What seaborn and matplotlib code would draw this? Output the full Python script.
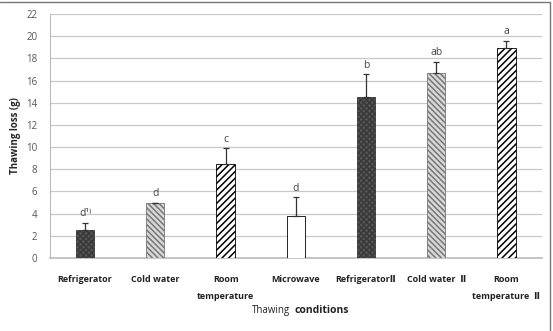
import numpy as np
import pandas as pd
import seaborn as sns
import matplotlib.pyplot as plt
from matplotlib.lines import Line2D

# data
conditions = ['Refrigerator', 'Cold water', 'Room\n\ntemperature', 'Microwave',
              'Refrigerator\u2161', 'Cold water  \u2161', 'Room\n\ntemperature  \u2161']
loss = [2.5, 5.0, 8.5, 3.8, 14.5, 16.7, 18.9]
err = [0.7, 0.0, 1.4, 1.7, 2.1, 1.0, 0.7]
letters = ['d\u00b9\u207e', 'd', 'c', 'd', 'b', 'ab', 'a']

fills = ['#555555', '#d8d8d8', 'white', 'white', '#555555', '#d8d8d8', 'white']
hatches = ['xxxxxx', '\\\\\\\\\\\\', '/////', '', 'xxxxxx', '\\\\\\\\\\\\', '/////']
hatch_cols = ['#3a3a3a', '#777777', 'black', 'black', '#3a3a3a', '#777777', 'black']

sns.set_style('white')
plt.rcParams['font.family'] = ['Open Sans', 'DejaVu Sans']
plt.rcParams['hatch.linewidth'] = 1.1

df = pd.DataFrame({'cond': conditions, 'loss': loss})

fig = plt.figure(figsize=(5.53, 3.31), dpi=100)
ax = fig.add_axes([0.0904, 0.2205, 0.889, 0.7372])

sns.barplot(data=df, x='cond', y='loss', ax=ax, width=0.26, color='white')

for i, bar in enumerate(ax.patches):
    bar.set_facecolor(fills[i])
    bar.set_hatch(hatches[i])
    bar.set_edgecolor(hatch_cols[i])
    bar.set_linewidth(0.6)
    bar.set_zorder(3)

x = np.arange(len(conditions))
ax.errorbar(x, loss, yerr=[np.zeros(len(err)), err], fmt='none',
            ecolor='#333333', elinewidth=0.9, capsize=2.5, capthick=0.9, zorder=4)

for i in range(len(x)):
    ax.text(x[i], loss[i] + err[i] + 0.3, letters[i], ha='center', va='bottom',
            fontsize=7.5, color='#444444')

ax.set_ylim(0, 22)
ax.set_yticks(range(0, 23, 2))
ax.set_xlim(-0.5, len(conditions) - 0.5)
ax.yaxis.grid(True, color='#c8c8c8', linewidth=0.9, zorder=0)
ax.set_axisbelow(True)
for s in ['top', 'right']:
    ax.spines[s].set_visible(False)
ax.spines['left'].set_color('#bbbbbb')
ax.spines['bottom'].set_color('#bbbbbb')
ax.spines['left'].set_linewidth(0.8)
ax.spines['bottom'].set_linewidth(1.2)
ax.tick_params(axis='y', length=3, color='#bbbbbb', labelsize=7, labelcolor='#555555', pad=6)
ax.tick_params(axis='x', length=0, pad=12)
ax.set_xticks(x)
ax.set_xticklabels(conditions, fontsize=6.5, fontweight='bold', color='#222222',
                   linespacing=0.95)

ax.set_xlabel('')
ax.set_ylabel('Thawing loss (g)', fontsize=7, fontweight='bold', labelpad=4)

fig.text(0.456, 0.045, 'Thawing', fontsize=7, color='#222222', ha='left', va='bottom')
fig.text(0.533, 0.045, 'conditions', fontsize=7.5, fontweight='bold', color='#222222',
         ha='left', va='bottom')

# frame of the original picture (top and right edges)
fig.add_artist(Line2D([0, 0.995], [0.994, 0.994], transform=fig.transFigure,
                      color='#777777', linewidth=1))
fig.add_artist(Line2D([0.995, 0.995], [0, 0.994], transform=fig.transFigure,
                      color='#777777', linewidth=1))

fig.savefig('out.png', dpi=100)
